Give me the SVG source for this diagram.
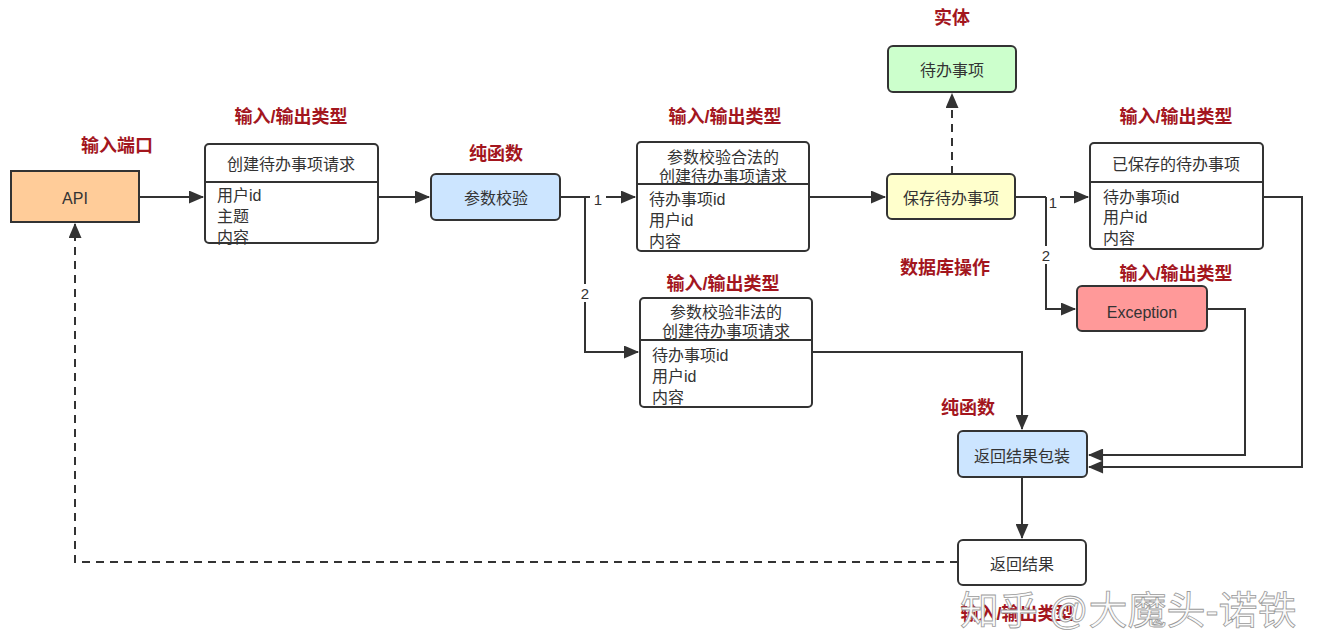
<svg xmlns="http://www.w3.org/2000/svg" width="1331" height="643" viewBox="0 0 1331 643">
<defs>
<marker id="ahL" viewBox="0 0 14 12" refX="13" refY="6" markerWidth="16" markerHeight="13" markerUnits="userSpaceOnUse" orient="auto">
<path d="M0,0 L14,6 L0,12 Z" fill="#333"/>
</marker>
</defs>
<style>
text{font-family:"Liberation Sans","Noto Sans CJK SC",sans-serif;fill:#333;}
.lbl{font-size:18px;font-weight:bold;fill:#A3161E;text-anchor:middle;}
.nt{font-size:16px;text-anchor:middle;dominant-baseline:central;}
.it{font-size:16px;}
.box{stroke:#333;stroke-width:2;}
.ln{fill:none;stroke:#333;stroke-width:2;}
.dash{fill:none;stroke:#333;stroke-width:2;stroke-dasharray:8 6;}
.num{font-size:15px;text-anchor:middle;}
.wm{font-size:39px;fill:#fafafa;stroke:#9a9a9a;stroke-width:0.8;}
</style>
<rect width="1331" height="643" fill="#fff"/>

<g id="connectors">
<line class="ln" x1="139" y1="197" x2="203" y2="197" marker-end="url(#ahL)"/>
<line class="ln" x1="378" y1="197" x2="429" y2="197" marker-end="url(#ahL)"/>
<polyline class="ln" points="560,197 590,197"/>
<line class="ln" x1="606" y1="197" x2="635" y2="197" marker-end="url(#ahL)"/>
<polyline class="ln" points="585,197 585,284"/>
<polyline class="ln" points="585,302 585,352 638,352" marker-end="url(#ahL)"/>
<line class="ln" x1="809" y1="197" x2="885" y2="197" marker-end="url(#ahL)"/>
<line class="dash" x1="952" y1="174" x2="952" y2="94" marker-end="url(#ahL)"/>
<polyline class="ln" points="1015,197 1046,197"/>
<line class="ln" x1="1060" y1="197" x2="1088" y2="197" marker-end="url(#ahL)"/>
<polyline class="ln" points="1046,197 1046,246"/>
<polyline class="ln" points="1046,264 1046,309 1075,309" marker-end="url(#ahL)"/>
<polyline class="ln" points="812,352 1022,352 1022,429" marker-end="url(#ahL)"/>
<polyline class="ln" points="1207,309 1245,309 1245,455 1089,455" marker-end="url(#ahL)"/>
<polyline class="ln" points="1263,197 1302,197 1302,467 1089,467" marker-end="url(#ahL)"/>
<line class="ln" x1="1022" y1="477" x2="1022" y2="538" marker-end="url(#ahL)"/>
<polyline class="dash" points="958,562 75,562 75,224" marker-end="url(#ahL)"/>
<text class="num" x="598" y="205">1</text>
<text class="num" x="585" y="299">2</text>
<text class="num" x="1053" y="208">1</text>
<text class="num" x="1046" y="261">2</text>
</g>

<g id="api">
<text class="lbl" x="117" y="152">输入端口</text>
<rect class="box" x="11" y="171" width="128" height="51" fill="#FFCC99"/>
<text class="nt" x="75" y="198">API</text>
</g>

<g id="create-request">
<text class="lbl" x="291" y="123">输入/输出类型</text>
<rect class="box" x="205" y="144" width="173" height="99" rx="4" fill="#fff"/>
<line class="ln" x1="205" y1="182" x2="378" y2="182"/>
<text class="nt" x="291" y="164">创建待办事项请求</text>
<text class="it" x="217" y="201">用户id</text>
<text class="it" x="217" y="222">主题</text>
<text class="it" x="217" y="243">内容</text>
</g>

<g id="validate">
<text class="lbl" x="496" y="160">纯函数</text>
<rect class="box" x="431" y="174" width="129" height="46" rx="5" fill="#CCE5FF"/>
<text class="nt" x="496" y="198">参数校验</text>
</g>

<g id="valid-request">
<text class="lbl" x="725" y="123">输入/输出类型</text>
<rect class="box" x="637" y="142" width="172" height="109" rx="4" fill="#fff"/>
<line class="ln" x1="637" y1="184" x2="809" y2="184"/>
<text class="nt" x="723" y="157">参数校验合法的</text>
<text class="nt" x="723" y="176">创建待办事项请求</text>
<text class="it" x="649" y="205">待办事项id</text>
<text class="it" x="649" y="226">用户id</text>
<text class="it" x="649" y="247">内容</text>
</g>

<g id="invalid-request">
<text class="lbl" x="723" y="290">输入/输出类型</text>
<rect class="box" x="640" y="298" width="172" height="109" rx="4" fill="#fff"/>
<line class="ln" x1="640" y1="340" x2="812" y2="340"/>
<text class="nt" x="726" y="312">参数校验非法的</text>
<text class="nt" x="726" y="331">创建待办事项请求</text>
<text class="it" x="652" y="361">待办事项id</text>
<text class="it" x="652" y="382">用户id</text>
<text class="it" x="652" y="403">内容</text>
</g>

<g id="save-todo">
<rect class="box" x="887" y="174" width="128" height="45" rx="5" fill="#FFFFCC"/>
<text class="nt" x="951" y="198">保存待办事项</text>
<text class="lbl" x="945" y="274">数据库操作</text>
</g>

<g id="entity">
<text class="lbl" x="952" y="24">实体</text>
<rect class="box" x="888" y="46" width="128" height="46" rx="5" fill="#CCFFCC"/>
<text class="nt" x="952" y="70">待办事项</text>
</g>

<g id="saved-todo">
<text class="lbl" x="1176" y="123">输入/输出类型</text>
<rect class="box" x="1090" y="143" width="173" height="106" rx="4" fill="#fff"/>
<line class="ln" x1="1090" y1="182" x2="1263" y2="182"/>
<text class="nt" x="1176" y="164">已保存的待办事项</text>
<text class="it" x="1103" y="203">待办事项id</text>
<text class="it" x="1103" y="223">用户id</text>
<text class="it" x="1103" y="244">内容</text>
</g>

<g id="exception">
<text class="lbl" x="1176" y="280">输入/输出类型</text>
<rect class="box" x="1077" y="286" width="130" height="45" rx="5" fill="#FF9999"/>
<text class="nt" x="1142" y="312">Exception</text>
</g>

<g id="wrap-result">
<text class="lbl" x="968" y="414">纯函数</text>
<rect class="box" x="958" y="431" width="129" height="46" rx="5" fill="#CCE5FF"/>
<text class="nt" x="1022" y="456">返回结果包装</text>
</g>

<g id="result">
<rect class="box" x="958" y="540" width="128" height="45" rx="5" fill="#fff"/>
<text class="nt" x="1022" y="564">返回结果</text>
<text class="lbl" x="1017" y="620">输入/输出类型</text>
</g>

<g id="watermark">
<text class="wm" x="960" y="624">知乎 @大魔头-诺铁</text>
</g>
</svg>
